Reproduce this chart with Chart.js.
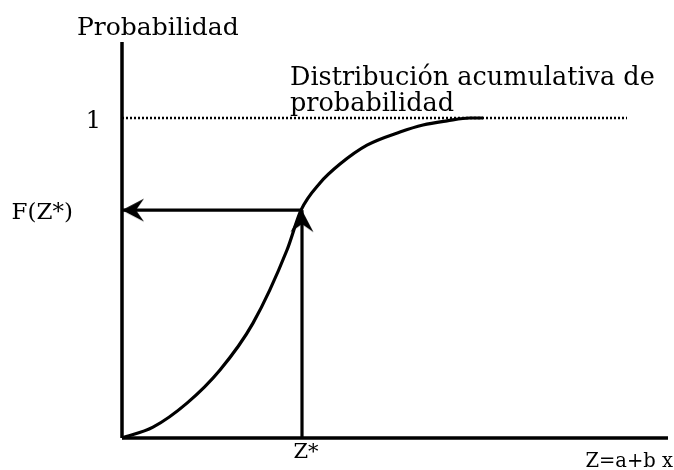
<!DOCTYPE html>
<html>
<head>
<meta charset="utf-8">
<script src="https://cdn.jsdelivr.net/npm/chart.js@4.4.1/dist/chart.umd.min.js"></script>
<style>
html,body{margin:0;padding:0;background:#fff;}
#wrap{width:674px;height:470px;position:relative;}
</style>
</head>
<body>
<div id="wrap"><canvas id="c" width="674" height="470"></canvas></div>
<script>
// ---- data ----
const zValues   = [0, 3.1, 6.5, 9.8, 13.1, 16.5, 17.9, 19.8, 21.8, 24.5, 27.8, 30.1, 32.5, 34.8, 36.1];
const cdfValues = [0, 0.034, 0.109, 0.2125, 0.359, 0.5875, 0.712, 0.797, 0.856, 0.915, 0.956, 0.978, 0.991, 1.0, 1.0];
const zStar = 18;
const fZStar = 0.712;
const zAxisEnd = 54.6;
const probAxisTop = 1.2375;
const dottedEnd = 50.5;
const yTickValues = [1, fZStar];
const yTickLabels = ['1', 'F(Z*)'];
const xTickLabels = ['Z*'];
const yAxisTitle = 'Probabilidad';
const xAxisTitle = 'Z=a+b x';
const curveTitle = ['Distribución acumulativa de', 'probabilidad'];

const FONT = '"DejaVu Serif", "Liberation Serif", serif';

function makeArrow() {
  const s = 50, c = document.createElement('canvas');
  c.width = s; c.height = s;
  const g = c.getContext('2d');
  const cx = s / 2, cy = s / 2;
  g.fillStyle = '#000';
  g.beginPath();
  g.moveTo(cx, cy);            // tip
  g.lineTo(cx + 11.5, cy + 22);  // right barb
  g.lineTo(cx, cy + 14);       // notch
  g.lineTo(cx - 11.5, cy + 22);  // left barb
  g.closePath();
  g.fill();
  return c;
}
const arrowImg = makeArrow();

const pts = (xs, ys) => xs.map((x, i) => ({x, y: ys[i]}));

const labelPlugin = {
  id: 'labels',
  afterDatasetsDraw(chart) {
    const {ctx, scales: {x, y}} = chart;
    const x0 = x.getPixelForValue(0), y0 = y.getPixelForValue(0);
    ctx.save();
    ctx.fillStyle = '#000';
    ctx.textBaseline = 'alphabetic';
    // y title
    ctx.font = '25px ' + FONT;
    ctx.textAlign = 'left';
    ctx.fillText(yAxisTitle, 77, y.getPixelForValue(probAxisTop) - 7);
    // y tick labels
    ctx.textAlign = 'right';
    ctx.font = '24px ' + FONT;
    ctx.fillText(yTickLabels[0], x0 - 21, y.getPixelForValue(yTickValues[0]) + 10);
    ctx.font = '23px ' + FONT;
    ctx.fillText(yTickLabels[1], x0 - 49, y.getPixelForValue(yTickValues[1]) + 9);
    // curve title
    ctx.textAlign = 'left';
    ctx.font = '25.5px ' + FONT;
    ctx.fillText(curveTitle[0], 290, 85);
    ctx.fillText(curveTitle[1], 290, 111);
    // x tick label
    ctx.textAlign = 'center';
    ctx.font = '21px ' + FONT;
    ctx.fillText(xTickLabels[0], x.getPixelForValue(zStar) + 4, y0 + 20);
    // x title
    ctx.font = '19.5px ' + FONT;
    ctx.textAlign = 'right';
    ctx.fillText(xAxisTitle, 673, y0 + 29);
    ctx.restore();
  }
};

const black = '#000';
new Chart(document.getElementById('c'), {
  type: 'scatter',
  data: {
    datasets: [
      { // curve
        data: pts(zValues, cdfValues), showLine: true, borderColor: black, borderWidth: 3.2,
        pointRadius: 0, cubicInterpolationMode: 'monotone', clip: false
      },
      { // y axis
        data: [{x: 0, y: 0}, {x: 0, y: probAxisTop}], showLine: true, borderColor: black,
        borderWidth: 3.5, pointRadius: 0, clip: false
      },
      { // x axis
        data: [{x: 0, y: 0}, {x: zAxisEnd, y: 0}], showLine: true, borderColor: black,
        borderWidth: 3.5, pointRadius: 0, clip: false
      },
      { // dotted line at 1
        data: [{x: 0, y: 1}, {x: dottedEnd, y: 1}], showLine: true, borderColor: black,
        borderWidth: 2.5, borderDash: [2, 2], pointRadius: 0, clip: false
      },
      { // horizontal arrow F(Z*)
        data: [{x: zStar, y: fZStar}, {x: 0, y: fZStar}], showLine: true, borderColor: black,
        borderWidth: 3.2, clip: false,
        pointStyle: [false, arrowImg], pointRadius: [0, 25], pointRotation: -90
      },
      { // vertical arrow Z*
        data: [{x: zStar, y: 0}, {x: zStar, y: fZStar}], showLine: true, borderColor: black,
        borderWidth: 3.2, clip: false,
        pointStyle: [false, arrowImg], pointRadius: [0, 25], pointRotation: 0
      }
    ]
  },
  options: {
    responsive: false,
    animation: false,
    events: [],
    layout: {padding: {left: 122, right: 52, top: 38, bottom: 32}},
    scales: {
      x: {type: 'linear', min: 0, max: 50, display: false},
      y: {type: 'linear', min: 0, max: 1.25, display: false}
    },
    plugins: {legend: {display: false}, tooltip: {enabled: false}}
  },
  plugins: [labelPlugin]
});
</script>
</body>
</html>
